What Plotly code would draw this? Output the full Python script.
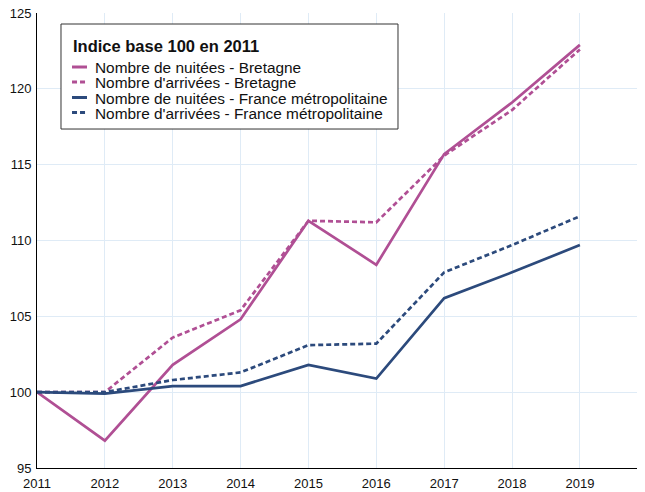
import plotly.graph_objects as go

years = [2011, 2012, 2013, 2014, 2015, 2016, 2017, 2018, 2019]
nuitees_bretagne = [100, 96.8, 101.8, 104.8, 111.3, 108.4, 115.7, 119.1, 122.9]
arrivees_bretagne = [100, 100.0, 103.6, 105.4, 111.3, 111.2, 115.6, 118.6, 122.6]
nuitees_france = [100, 99.9, 100.4, 100.4, 101.8, 100.9, 106.2, 107.9, 109.7]
arrivees_france = [100, 100.0, 100.8, 101.3, 103.1, 103.2, 107.9, 109.7, 111.6]
y_ticks = [95, 100, 105, 110, 115, 120, 125]

legend_title = "Indice base 100 en 2011"
names = [
    "Nombre de nuitées - Bretagne",
    "Nombre d'arrivées - Bretagne",
    "Nombre de nuitées - France métropolitaine",
    "Nombre d'arrivées - France métropolitaine",
]
MAG = "#b04f94"
NAVY = "#2c4a7c"
series = [nuitees_bretagne, arrivees_bretagne, nuitees_france, arrivees_france]
colors = [MAG, MAG, NAVY, NAVY]
dashes = ["solid", "5px,3px", "solid", "5px,3px"]

fig = go.Figure()
for name, vals, c, d in zip(names, series, colors, dashes):
    fig.add_trace(go.Scatter(x=years, y=vals, mode="lines", name=name, showlegend=False,
                             line=dict(color=c, width=2.7, dash=d)))

# Custom legend box (paper coordinates of the plot area)
fig.add_shape(type="rect", xref="paper", yref="paper", x0=0.0396, x1=0.5957, y0=0.745, y1=0.9758,
              line=dict(color="#333", width=1), fillcolor="white", layer="above")
fig.add_annotation(xref="paper", yref="paper", x=0.0553, y=0.928, xanchor="left", yanchor="middle",
                   text="<b>" + legend_title + "</b>", showarrow=False,
                   font=dict(size=16.5, color="#111"))
item_y = [0.8813, 0.8484, 0.8143, 0.7813]
for name, c, d, yy in zip(names, colors, dashes, item_y):
    fig.add_shape(type="line", xref="paper", yref="paper", x0=0.0578, x1=0.0825, y0=yy, y1=yy,
                  line=dict(color=c, width=3, dash=d), layer="above")
    fig.add_annotation(xref="paper", yref="paper", x=0.0916, y=yy - 0.002, xanchor="left",
                       yanchor="middle", text=name, showarrow=False,
                       font=dict(size=15.4, color="#111"))

fig.update_layout(
    width=637, height=484,
    margin=dict(l=29, r=2, t=5, b=24, autoexpand=False),
    paper_bgcolor="white", plot_bgcolor="white",
    font=dict(family="Liberation Sans, Arial, sans-serif", size=13, color="#111"),
    xaxis=dict(range=[2011, 2019.93], tickvals=years, ticktext=[str(y) for y in years],
               showgrid=True, gridcolor="#dfebf6", gridwidth=1,
               showline=True, linecolor="black", linewidth=1, zeroline=False,
               ticks="", tickfont=dict(size=13), ticklabelstandoff=3,
               ticklabeloverflow="allow", automargin=False),
    yaxis=dict(range=[95, 125], tickvals=y_ticks,
               showgrid=True, gridcolor="#dfebf6", gridwidth=1,
               showline=True, linecolor="black", linewidth=1, zeroline=False,
               ticks="", tickfont=dict(size=13), ticklabelstandoff=2,
               ticklabeloverflow="allow", automargin=False),
)
fig.write_html("out.html")
